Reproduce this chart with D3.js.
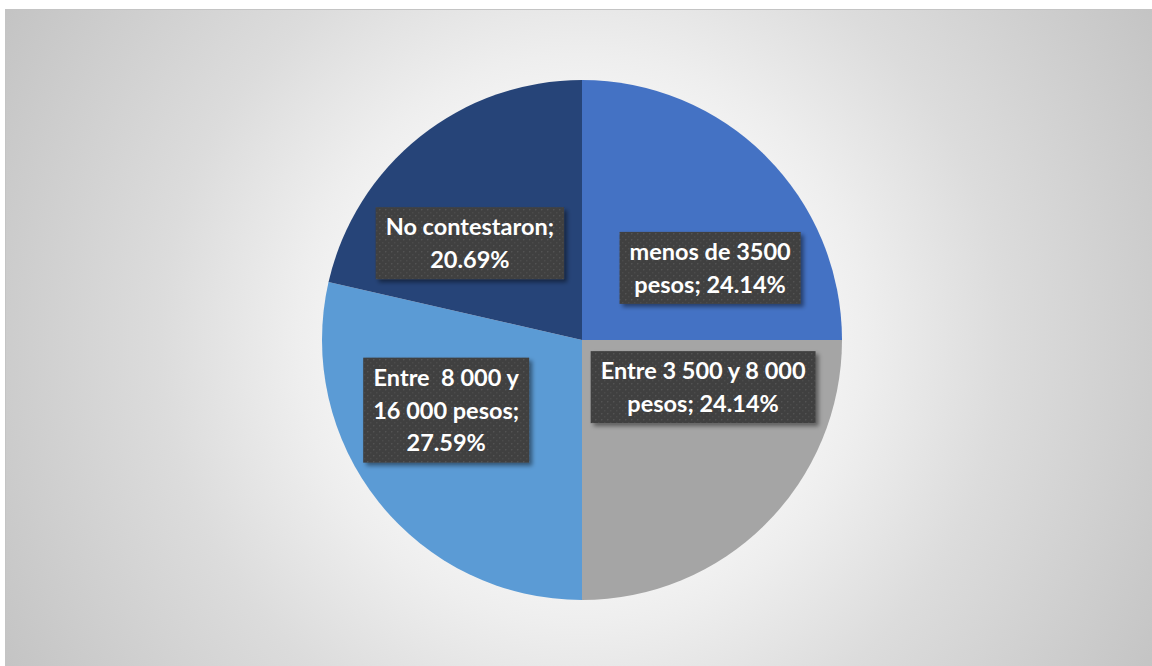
<!DOCTYPE html>
<html>
<head>
<meta charset="utf-8">
<script src="https://cdn.jsdelivr.net/npm/d3@7"></script>
<style>
  html, body { margin: 0; padding: 0; background: #ffffff; }
  svg { display: block; }
  text { font-family: Lato, "Open Sans", sans-serif; font-weight: 700; white-space: pre; }
</style>
</head>
<body>
<svg id="chart" width="1152" height="666"></svg>
<script>
// Income ranges and their shares (percent of respondents)
const categories = [
  "menos de 3500 pesos",
  "Entre 3 500 y 8 000 pesos",
  "Entre  8 000 y 16 000 pesos",
  "No contestaron"
];
const shares = [24.14, 24.14, 27.59, 20.69];
const sliceColors = ["#4472C4", "#A5A5A5", "#5B9BD5", "#264478"];

// Label layout: max text width for wrapping and nudge from the slice anchor
const wrapWidths = [195, 240, 172, 210];
const labelNudge = [[27, 29], [20, -54], [-24, -19], [-23, 15]];

const W = 1152, H = 666;
const svg = d3.select("#chart");
const defs = svg.append("defs");

// Soft radial backdrop
const cx = 582, cy = 340, R = 260;
const bg = defs.append("radialGradient")
  .attr("id", "bgGrad")
  .attr("gradientUnits", "userSpaceOnUse")
  .attr("cx", cx).attr("cy", cy).attr("r", 680);
[[0, "#ffffff"], [0.3, "#f7f7f7"], [0.42, "#eeeeee"], [0.62, "#dcdcdc"], [1, "#c2c2c2"]]
  .forEach(([o, c]) => bg.append("stop").attr("offset", o).attr("stop-color", c));

// Dotted texture for the data label boxes
const pat = defs.append("pattern")
  .attr("id", "dots").attr("patternUnits", "userSpaceOnUse")
  .attr("width", 6).attr("height", 6);
pat.append("rect").attr("width", 6).attr("height", 6).attr("fill", "#404040");
pat.append("rect").attr("x", 1).attr("y", 1).attr("width", 1.4).attr("height", 1.4).attr("fill", "#535353");
pat.append("rect").attr("x", 4).attr("y", 4).attr("width", 1.4).attr("height", 1.4).attr("fill", "#4b4b4b");

const shadow = defs.append("filter").attr("id", "boxShadow")
  .attr("x", "-20%").attr("y", "-20%").attr("width", "140%").attr("height", "150%");
shadow.append("feDropShadow").attr("dx", 3).attr("dy", 3).attr("stdDeviation", 2.2)
  .attr("flood-color", "#000").attr("flood-opacity", 0.45);

// Chart area
svg.append("rect")
  .attr("x", 5.5).attr("y", 9.5).attr("width", W).attr("height", H)
  .attr("fill", "url(#bgGrad)")
  .attr("stroke", "#c4c4c4").attr("stroke-width", 1);

const data = categories.map((c, i) => ({ name: c, value: shares[i], color: sliceColors[i], idx: i }));

const pie = d3.pie().sort(null).value(d => d.value);
const arc = d3.arc().innerRadius(0).outerRadius(R);
const anchorArc = d3.arc().innerRadius(R * 0.55).outerRadius(R * 0.55);

const arcs = pie(data);
const g = svg.append("g").attr("transform", `translate(${cx},${cy})`);

g.selectAll("path.slice")
  .data(arcs)
  .join("path")
  .attr("class", "slice")
  .attr("d", arc)
  .attr("fill", d => d.data.color);

// Data labels: "<category>; <percent>%"
const fontSize = 23.5, lineH = 32.5, capH = fontSize * 0.72;
const measure = svg.append("text").attr("font-size", fontSize).attr("visibility", "hidden");
function textWidth(s) { measure.text(s); return measure.node().getComputedTextLength(); }
function wrap(s, maxW) {
  const words = s.split(" ");
  const lines = [];
  let cur = null;
  words.forEach(w => {
    if (cur === null) { cur = w; return; }
    const trial = cur + " " + w;
    if (w !== "" && textWidth(trial) > maxW) { lines.push(cur); cur = w; }
    else cur = trial;
  });
  if (cur !== null) lines.push(cur);
  return lines;
}

g.selectAll("g.label")
  .data(arcs)
  .join("g")
  .attr("class", "label")
  .each(function (d) {
    const i = d.data.idx;
    const txt = `${d.data.name}; ${d3.format(".2f")(d.data.value)}%`;
    const lines = wrap(txt, wrapWidths[i]);
    const [ax, ay] = anchorArc.centroid(d);
    const x = ax + labelNudge[i][0], y = ay + labelNudge[i][1];
    const maxW = d3.max(lines, textWidth);
    const bw = maxW + 20, bh = lines.length * 33 + 6;
    const sel = d3.select(this);
    sel.append("rect")
      .attr("x", x - bw / 2).attr("y", y - bh / 2)
      .attr("width", bw).attr("height", bh)
      .attr("fill", "url(#dots)")
      .attr("filter", "url(#boxShadow)");
    const y0 = y - (lines.length - 1) / 2 * lineH + capH / 2;
    sel.selectAll("text")
      .data(lines)
      .join("text")
      .attr("x", x)
      .attr("y", (l, k) => y0 + k * lineH)
      .attr("text-anchor", "middle")
      .attr("font-size", fontSize)
      .attr("fill", "#ffffff")
      .text(l => l);
  });
measure.remove();
</script>
</body>
</html>
